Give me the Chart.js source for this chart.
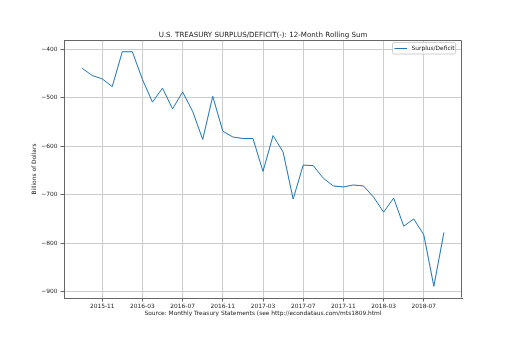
<!DOCTYPE html>
<html>
<head>
<meta charset="utf-8">
<script src="https://cdn.jsdelivr.net/npm/chart.js@4/dist/chart.umd.min.js"></script>
<style>
  html, body { margin: 0; padding: 0; background: #fff; }
  #wrap { width: 512px; height: 341px; }
</style>
</head>
<body>
<div id="wrap"><canvas id="chart" width="512" height="341"></canvas></div>
<script>
// months 2015-09 .. 2018-09
const months = [
  '2015-09', '2015-10', '2015-11', '2015-12',
  '2016-01', '2016-02', '2016-03', '2016-04', '2016-05', '2016-06',
  '2016-07', '2016-08', '2016-09', '2016-10', '2016-11', '2016-12',
  '2017-01', '2017-02', '2017-03', '2017-04', '2017-05', '2017-06',
  '2017-07', '2017-08', '2017-09', '2017-10', '2017-11', '2017-12',
  '2018-01', '2018-02', '2018-03', '2018-04', '2018-05', '2018-06',
  '2018-07', '2018-08', '2018-09'
];
const deficit = [
  -439, -454, -461, -477,
  -405, -405, -462, -509, -480, -523,
  -488, -528, -586, -497, -569, -581,
  -584, -584, -652, -578, -612, -709,
  -639, -640, -666, -682, -684, -680,
  -682, -705, -736, -707, -765, -750,
  -783, -889, -778
];
const xTickLabels = ['2015-11', '2016-03', '2016-07', '2016-11', '2017-03', '2017-07', '2017-11', '2018-03', '2018-07'];
const yTicks = [-400, -500, -600, -700, -800, -900];

const titleText = 'U.S. TREASURY SURPLUS/DEFICIT(-): 12-Month Rolling Sum';
const seriesName = 'Surplus/Deficit';
const lineColor = '#1f77b4';
const FONT = 'DejaVu Sans';
const axisColor = '#666';

const frameAndLegend = {
  id: 'frameAndLegend',
  afterDraw(chart) {
    const { ctx, chartArea: a } = chart;
    ctx.save();
    // top/right spines
    ctx.strokeStyle = axisColor;
    ctx.lineWidth = 1;
    ctx.beginPath();
    ctx.moveTo(Math.round(a.left), Math.round(a.top) + 0.5);
    ctx.lineTo(Math.round(a.right) - 0.5, Math.round(a.top) + 0.5);
    ctx.lineTo(Math.round(a.right) - 0.5, Math.round(a.bottom) - 0.5);
    ctx.stroke();

    // title
    ctx.fillStyle = '#222';
    ctx.font = '7.1px "' + FONT + '"';
    ctx.textAlign = 'center';
    ctx.textBaseline = 'middle';
    ctx.fillText(titleText, (a.left + a.right) / 2, 35);

    // legend
    const bx = 392.5, by = 42.5, bw = 63, bh = 11.5;
    ctx.fillStyle = 'rgba(255,255,255,0.8)';
    ctx.strokeStyle = '#d0d0d0';
    ctx.beginPath();
    ctx.roundRect(bx, by, bw, bh, 1.5);
    ctx.fill();
    ctx.stroke();
    ctx.strokeStyle = lineColor;
    ctx.beginPath();
    ctx.moveTo(394.5, 48.5);
    ctx.lineTo(407, 48.5);
    ctx.stroke();
    ctx.fillStyle = '#222';
    ctx.font = '5.9px "' + FONT + '"';
    ctx.textAlign = 'left';
    ctx.fillText(seriesName, 411.5, 48.5);
    ctx.restore();
  }
};

new Chart(document.getElementById('chart'), {
  type: 'line',
  data: {
    datasets: [{
      label: seriesName,
      data: deficit.map((v, i) => ({ x: i, y: v })),
      borderColor: lineColor,
      borderWidth: 1,
      pointRadius: 0,
      fill: false,
      tension: 0
    }]
  },
  options: {
    responsive: false,
    animation: false,
    layout: { padding: { top: 40, right: 50, bottom: 0, left: 0 } },
    plugins: {
      legend: { display: false },
      title: { display: false },
      tooltip: { enabled: false }
    },
    scales: {
      x: {
        type: 'linear',
        min: -1.8,
        max: months.length - 1 + 1.8,
        afterBuildTicks: s => { s.ticks = xTickLabels.map(l => ({ value: months.indexOf(l) })); },
        afterFit: s => { s.height = 43; },
        grid: { color: '#cccccc', tickColor: axisColor, tickLength: 3.5, lineWidth: 1 },
        border: { color: axisColor },
        ticks: {
          autoSkip: false, maxRotation: 0, padding: 1.5,
          color: '#222', font: { family: FONT, size: 5.9 },
          callback: v => months[v]
        },
        title: {
          display: true,
          text: 'Source: Monthly Treasury Statements (see http://econdataus.com/mts1809.html',
          color: '#222', font: { family: FONT, size: 5.9 },
          padding: { top: 24, bottom: 24 }
        }
      },
      y: {
        min: -913.2,
        max: -380.8,
        afterBuildTicks: s => { s.ticks = yTicks.map(v => ({ value: v })); },
        afterFit: s => { s.width = 64; },
        grid: { color: '#cccccc', tickColor: axisColor, tickLength: 3.5, lineWidth: 1 },
        border: { color: axisColor },
        ticks: {
          padding: 3, color: '#222', font: { family: FONT, size: 5.9 },
          callback: v => String(v).replace('-', '\u2212')
        },
        title: {
          display: true,
          text: 'Billions of Dollars',
          color: '#222', font: { family: FONT, size: 5.9 },
          padding: { top: 31, bottom: 31 }
        }
      }
    }
  },
  plugins: [frameAndLegend]
});
</script>
</body>
</html>
